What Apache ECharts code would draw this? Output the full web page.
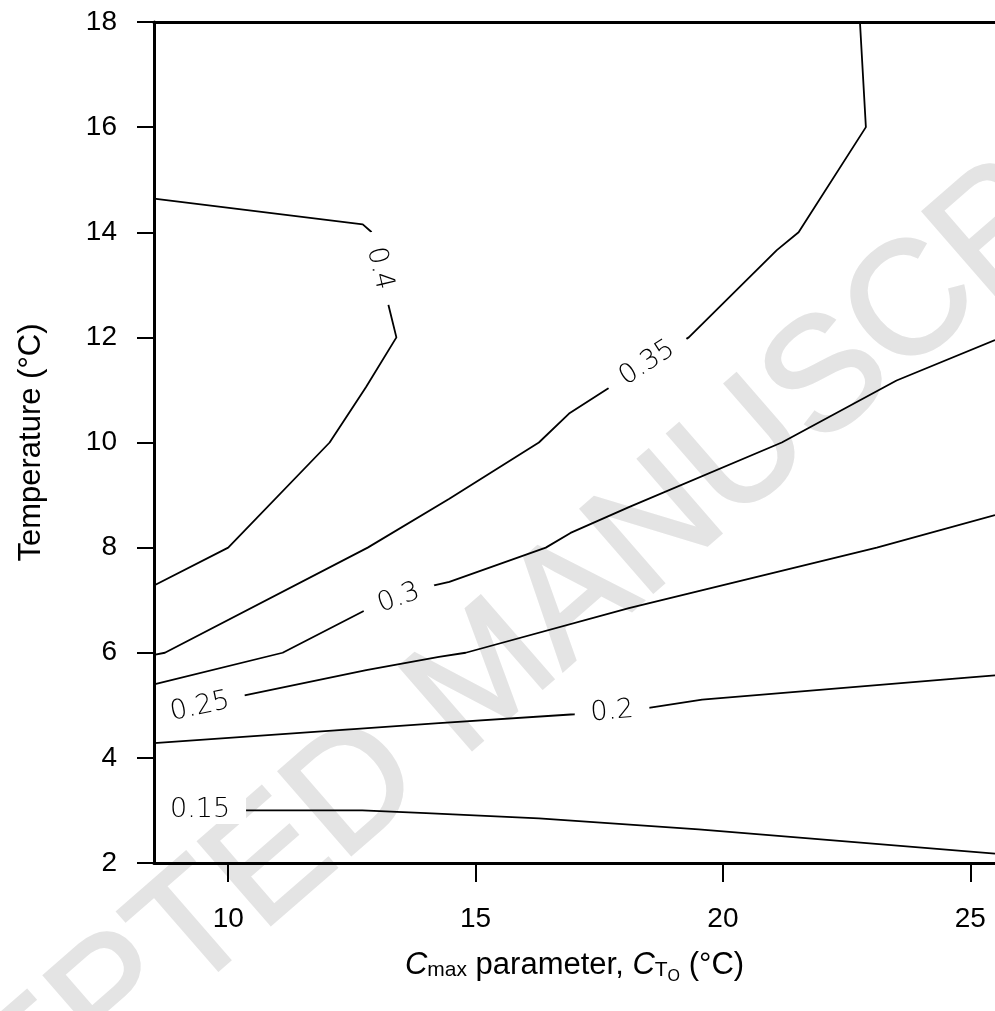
<!DOCTYPE html>
<html>
<head>
<meta charset="utf-8">
<script src="https://cdn.jsdelivr.net/npm/echarts@6/dist/echarts.min.js"></script>
<style>
  html, body { margin: 0; padding: 0; background: #fff; }
  #chart { width: 995px; height: 1011px; }
</style>
</head>
<body>
<div id="chart"></div>
<script>
// Contour levels and their polylines: [Cmax parameter (°C), temperature (°C)]
const levels = ['0.15', '0.2', '0.25', '0.3', '0.35', '0.4'];

const line015 = [[8.5, 3.0], [10.39, 3.0], [12.71, 3.0], [14.0, 2.95], [16.28, 2.85], [19.51, 2.64], [25.5, 2.18]];
const line020 = [[8.5, 4.28], [14.26, 4.66], [17.0, 4.83], [18.5, 4.95], [19.58, 5.11], [25.0, 5.53], [25.5, 5.57]];
const line025 = [[8.5, 4.84], [10.33, 5.19], [12.79, 5.67], [14.26, 5.92], [14.8, 6.0], [18.1, 6.85], [23.11, 8.0], [25.5, 8.62]];
const line030 = [[8.5, 5.40], [11.1, 6.0], [12.73, 6.79], [14.16, 7.28], [14.47, 7.35], [16.42, 8.0], [16.92, 8.28], [18.1, 8.77], [21.19, 10.0], [23.51, 11.18], [25.5, 11.95]];
const line035 = [[8.5, 5.96], [8.72, 6.0], [12.82, 8.0], [14.47, 8.93], [16.28, 10.0], [16.89, 10.55], [17.63, 11.0], [19.31, 12.0], [21.09, 13.66], [21.53, 14.0], [22.89, 16.0], [22.77, 18.0]];
const line040 = [[8.5, 7.28], [10.0, 8.0], [12.05, 10.0], [12.79, 11.06], [13.4, 12.0], [13.24, 12.61], [12.89, 14.01], [12.72, 14.15], [8.5, 14.64]];

const contourLines = [line015, line020, line025, line030, line035, line040];

// Where each level is labelled along its line, and the label's angle (degrees)
const labelPos = [[9.43, 3.0], [17.76, 4.88], [9.43, 4.97], [13.45, 7.04], [18.47, 11.51], [13.06, 13.31]];
const labelAngle = [0, 5, 12, 20, 33, -76.5];

// Axis ticks
const xTicks = [10, 15, 20, 25];
const yMin = 2, yMax = 18, yStep = 2;
const xMin = 8.5, xMax = 25.5;

const chart = echarts.init(document.getElementById('chart'), null, { renderer: 'canvas' });

const baseFont = "'Liberation Sans', Arial, Helvetica, sans-serif";
const contourFont = "'DejaVu Sans', sans-serif";

const lineSeries = contourLines.map((pts, i) => ({
  type: 'line',
  name: levels[i],
  data: pts,
  symbol: 'none',
  silent: true,
  z: 3,
  lineStyle: { color: '#000', width: 1.8 },
  animation: false
}));

// Level labels sit on a white box that breaks the contour line beneath them
const labelSeries = {
  type: 'scatter',
  silent: true,
  symbolSize: 0,
  itemStyle: { color: '#fff', opacity: 1 },
  z: 5,
  data: labelPos.map((p, i) => ({
    value: p,
    label: {
      show: true,
      position: 'inside',
      formatter: levels[i],
      rotate: labelAngle[i],
      fontFamily: contourFont,
      fontWeight: 200,
      fontSize: 27,
      color: '#000',
      opacity: 1,
      backgroundColor: '#fff',
      padding: [0, 16]
    }
  }))
};

const option = {
  animation: false,
  backgroundColor: '#fff',
  graphic: [{
    type: 'text',
    silent: true,
    z: -10,
    x: 487,
    y: 678,
    rotation: 41 * Math.PI / 180,
    style: {
      text: 'ACCEPTED MANUSCRIPT',
      fontFamily: baseFont,
      fontSize: 160,
      fill: '#e4e4e4',
      stroke: '#e4e4e4',
      lineWidth: 3,
      align: 'center',
      verticalAlign: 'middle'
    }
  }],
  grid: { left: 154, top: 22, width: 843, height: 841, containLabel: false },
  xAxis: [{
    type: 'value',
    z: 10,
    min: xMin,
    max: xMax,
    position: 'bottom',
    axisLine: { show: true, onZero: false, lineStyle: { color: '#000', width: 3 } },
    axisTick: { show: true, customValues: xTicks, length: 19, lineStyle: { color: '#000', width: 2 } },
    axisLabel: { customValues: xTicks, fontSize: 28, color: '#000', margin: 42, fontFamily: baseFont },
    splitLine: { show: false },
    name: '{i|C}{s|max}{n| parameter, }{i|C}{s|T}{ss|O}{n| (°C)}',
    nameLocation: 'middle',
    nameGap: 82,
    nameTextStyle: {
      fontFamily: baseFont,
      fontSize: 31,
      color: '#000',
      rich: {
        n: { fontFamily: baseFont, fontSize: 31, lineHeight: 40, color: '#000', verticalAlign: 'middle' },
        i: { fontFamily: baseFont, fontSize: 31, lineHeight: 40, fontStyle: 'italic', color: '#000', verticalAlign: 'middle' },
        s: { fontFamily: baseFont, fontSize: 21, lineHeight: 21, color: '#000', verticalAlign: 'bottom', padding: [0, 0, 4, 0] },
        ss: { fontFamily: baseFont, fontSize: 16, lineHeight: 16, color: '#000', verticalAlign: 'bottom' }
      }
    }
  }, {
    type: 'value',
    z: 10,
    min: xMin,
    max: xMax,
    position: 'top',
    axisLine: { show: true, onZero: false, lineStyle: { color: '#000', width: 3 } },
    axisTick: { show: false },
    axisLabel: { show: false },
    splitLine: { show: false }
  }],
  yAxis: {
    type: 'value',
    z: 10,
    min: yMin,
    max: yMax,
    interval: yStep,
    axisLine: { show: true, onZero: false, lineStyle: { color: '#000', width: 3 } },
    axisTick: { show: true, length: 17, lineStyle: { color: '#000', width: 2 } },
    axisLabel: { fontSize: 28, color: '#000', margin: 37, fontFamily: baseFont },
    splitLine: { show: false },
    name: 'Temperature (°C)',
    nameLocation: 'middle',
    nameRotate: 90,
    nameGap: 107,
    nameTextStyle: { fontFamily: baseFont, fontSize: 31, color: '#000' }
  },
  series: [...lineSeries, labelSeries]
};

chart.setOption(option);
</script>
</body>
</html>
